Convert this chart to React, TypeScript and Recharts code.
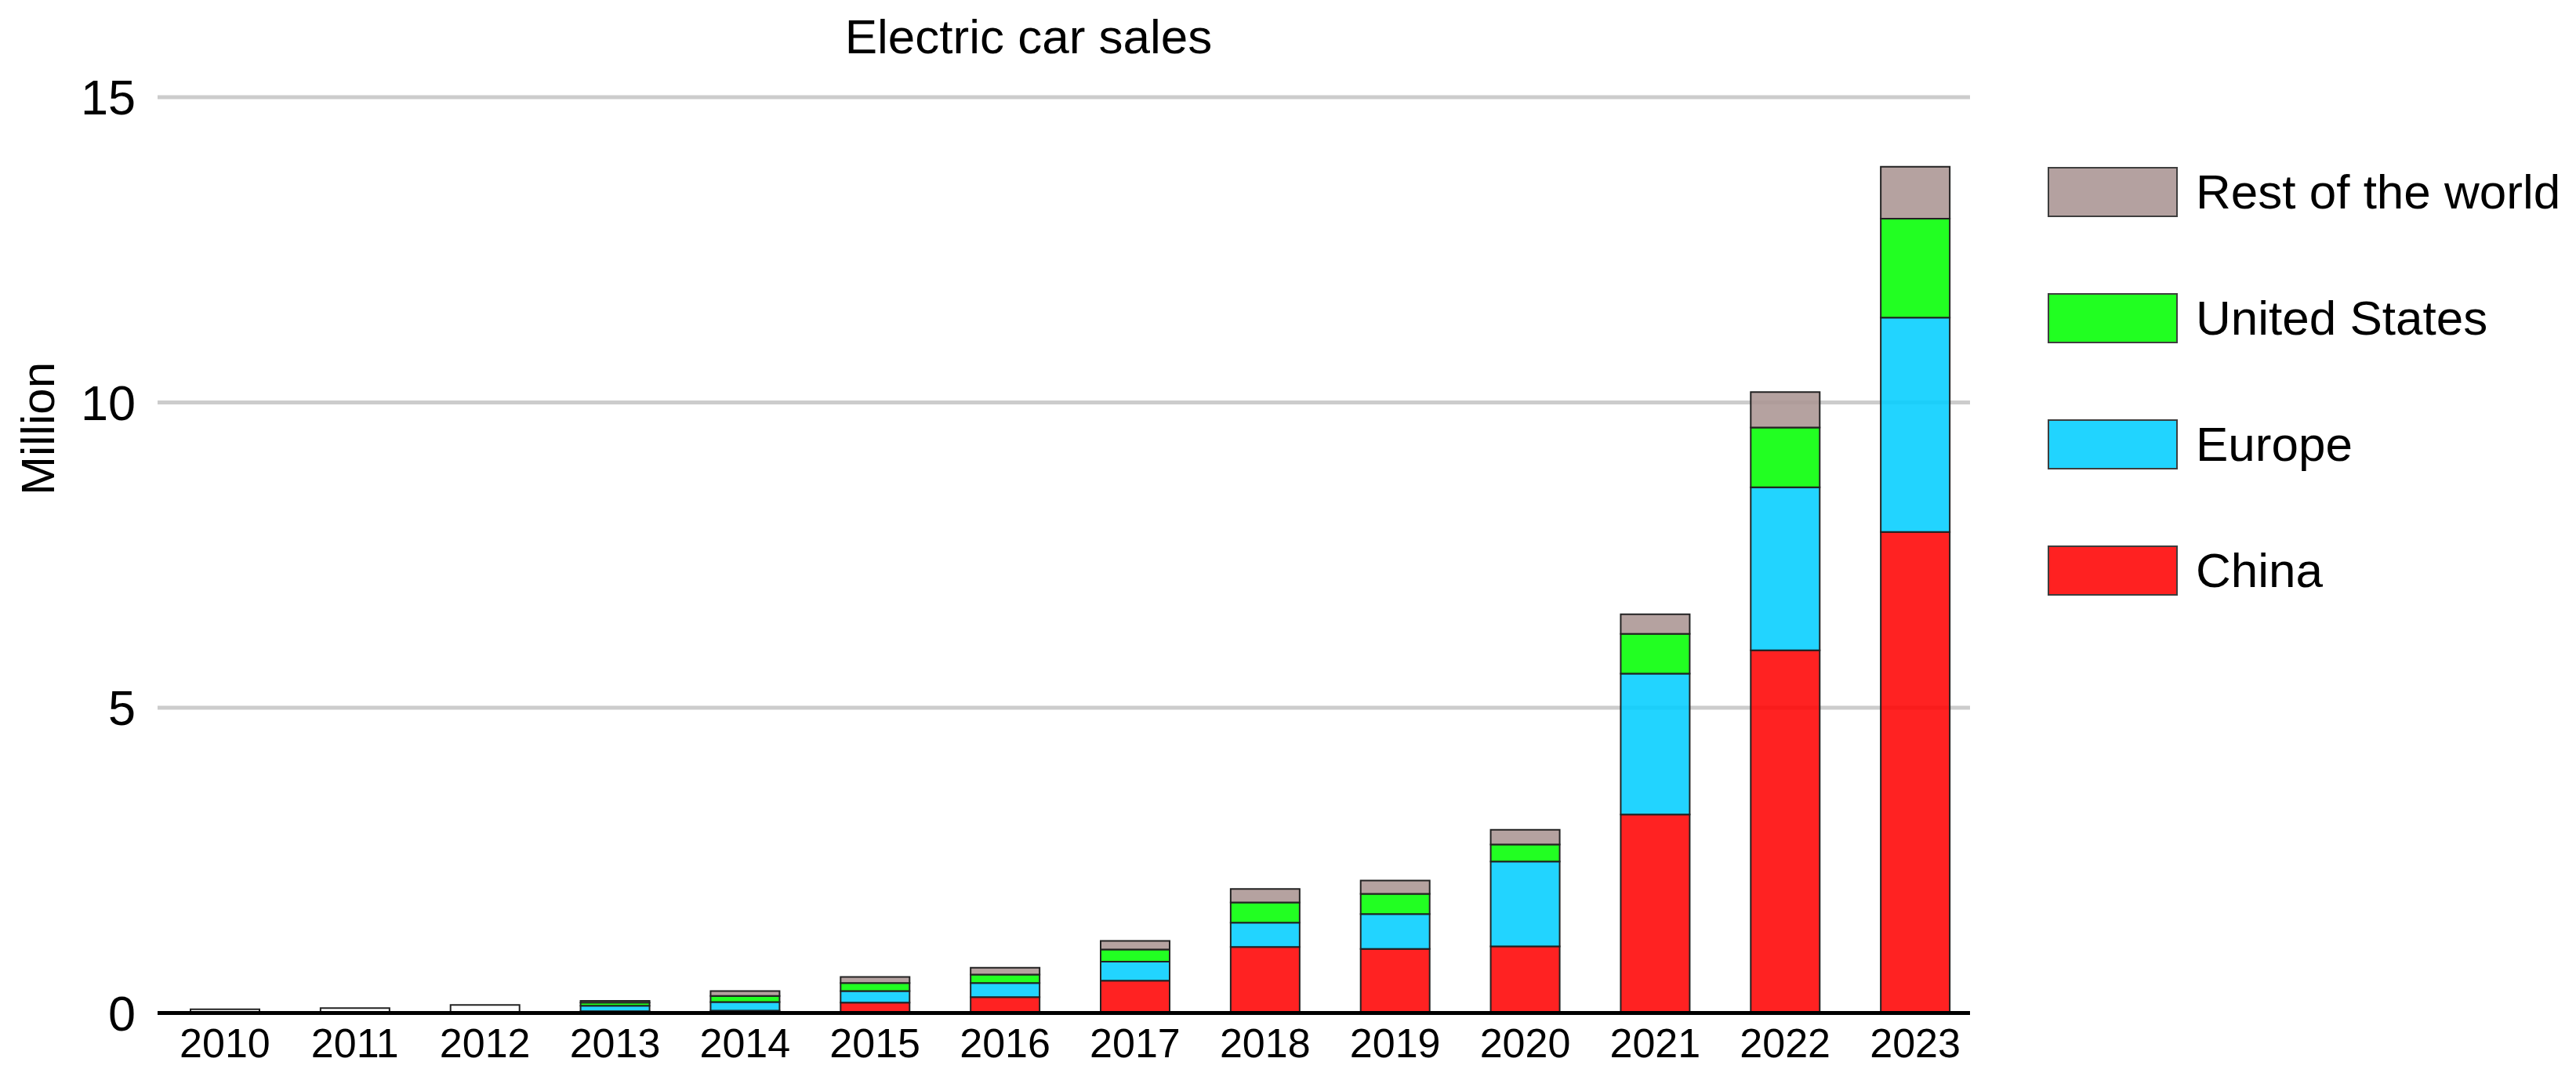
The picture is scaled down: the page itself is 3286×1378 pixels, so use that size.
import React from 'react'
import { BarChart, Bar, XAxis, YAxis, CartesianGrid } from 'recharts'

const years = ['2010', '2011', '2012', '2013', '2014', '2015', '2016', '2017', '2018', '2019', '2020', '2021', '2022', '2023']

// million cars
const china = [null, null, null, 0.03, 0.04, 0.17, 0.26, 0.53, 1.08, 1.05, 1.09, 3.25, 5.94, 7.88]
const europe = [null, null, null, 0.09, 0.14, 0.19, 0.23, 0.31, 0.4, 0.57, 1.39, 2.31, 2.67, 3.51]
const unitedStates = [null, null, null, 0.05, 0.1, 0.13, 0.14, 0.2, 0.33, 0.33, 0.28, 0.65, 0.98, 1.62]
const restOfWorld = [null, null, null, 0.03, 0.08, 0.1, 0.11, 0.14, 0.22, 0.22, 0.24, 0.32, 0.58, 0.85]
// early years drawn as plain white boxes (no regional split)
const noSplit = [0.06, 0.08, 0.13, null, null, null, null, null, null, null, null, null, null, null]

const yTicks = [0, 5, 10, 15]

const series = [
  { key: 'china', name: 'China', color: '#ff0101' },
  { key: 'europe', name: 'Europe', color: '#01ceff' },
  { key: 'us', name: 'United States', color: '#01ff01' },
  { key: 'rest', name: 'Rest of the world', color: '#aa9492' }
]

const data = years.map((year, i) => ({
  year,
  china: china[i],
  europe: europe[i],
  us: unitedStates[i],
  rest: restOfWorld[i],
  nosplit: noSplit[i]
}))

const FONT = '"Liberation Sans", Arial, sans-serif'
const OPACITY = 0.87

export default function App() {
  return (
    <div style={{ position: 'absolute', left: 0, top: 0, width: 3286, height: 1378, fontFamily: FONT, background: '#fff' }}>
      <div
        style={{
          position: 'absolute',
          left: 0,
          width: 2624,
          top: 16,
          textAlign: 'center',
          fontSize: 62,
          lineHeight: '62px',
          color: '#000'
        }}
      >
        Electric car sales
      </div>
      <div
        style={{
          position: 'absolute',
          left: 49,
          top: 547,
          transform: 'translate(-50%, -50%) rotate(-90deg)',
          fontSize: 60,
          lineHeight: '60px',
          whiteSpace: 'nowrap',
          color: '#000'
        }}
      >
        Million
      </div>

      <BarChart
        width={3286}
        height={1378}
        data={data}
        margin={{ top: 124, right: 773, bottom: 0, left: 0 }}
        style={{ position: 'absolute', left: 0, top: 0 }}
      >
        <CartesianGrid horizontal vertical={false} stroke="#cccccc" strokeWidth={5} />
        <XAxis
          dataKey="year"
          height={85.5}
          interval={0}
          tickLine={false}
          tickSize={0}
          tickMargin={20}
          axisLine={{ stroke: '#000', strokeWidth: 5 }}
          padding={{ left: 3, right: -13 }}
          tick={{ fontSize: 52, fill: '#000', fontFamily: FONT }}
        />
        <YAxis
          width={201}
          domain={[0, 15]}
          ticks={yTicks}
          axisLine={false}
          tickLine={false}
          tickSize={0}
          tickMargin={28}
          tick={{ fontSize: 63, fill: '#000', fontFamily: FONT }}
        />
        {series.map((s) => (
          <Bar
            key={s.key}
            dataKey={s.key}
            name={s.name}
            stackId="a"
            barSize={88}
            fill={s.color}
            fillOpacity={OPACITY}
            stroke="#222"
            strokeWidth={2}
            isAnimationActive={false}
          />
        ))}
        <Bar
          dataKey="nosplit"
          stackId="a"
          barSize={88}
          fill="#ffffff"
          stroke="#222"
          strokeWidth={2}
          isAnimationActive={false}
        />
      </BarChart>

      <div style={{ position: 'absolute', left: 2612, top: 213 }}>
        {[...series].reverse().map((s) => (
          <div key={s.key} style={{ display: 'flex', alignItems: 'center', height: 64, marginBottom: 97 }}>
            <div
              style={{
                width: 162,
                height: 60,
                border: '2px solid #222',
                background: s.color,
                opacity: OPACITY,
                flex: 'none'
              }}
            />
            <span style={{ marginLeft: 23, fontSize: 62, lineHeight: '62px', whiteSpace: 'nowrap', color: '#000' }}>
              {s.name}
            </span>
          </div>
        ))}
      </div>
    </div>
  )
}
